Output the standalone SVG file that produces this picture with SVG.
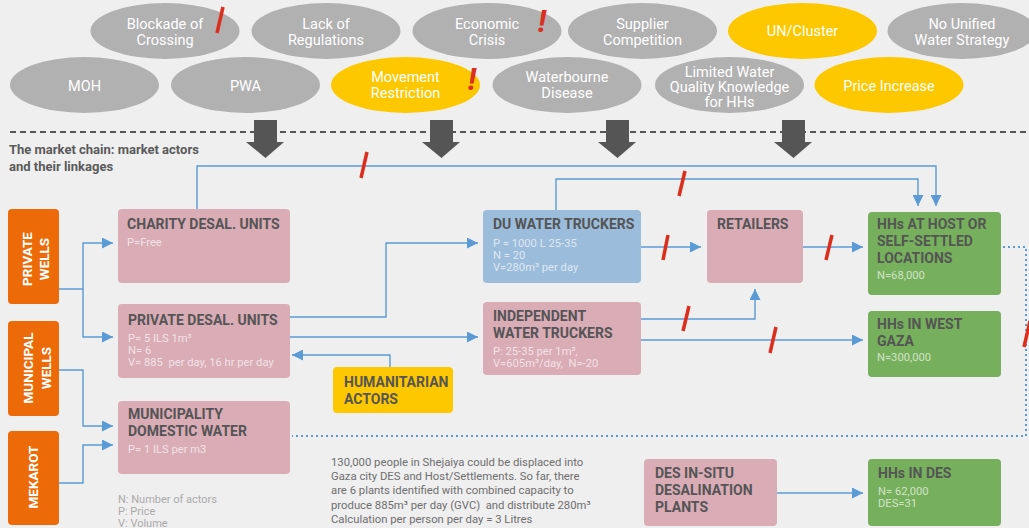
<svg xmlns="http://www.w3.org/2000/svg" width="1029" height="528" viewBox="0 0 1029 528">
<style>
.bg{fill:#efefef}
.eg{fill:#b1b1b1}
.ey{fill:#fdc800}
.et{font-family:Roboto,"Liberation Sans",sans-serif;font-size:14.5px;fill:#ffffff;text-anchor:middle}
.pink{fill:#d9acb6}
.blue{fill:#9bbcda}
.green{fill:#76b05c}
.orange{fill:#ec6a08}
.yel{fill:#fec800}
.tt{font-family:Roboto,"Liberation Sans",sans-serif;font-size:14px;font-weight:bold;fill:#555555}
.st{font-family:Roboto,"Liberation Sans",sans-serif;font-size:11.2px;fill:#ffffff;fill-opacity:0.68;white-space:pre}
.ot{font-family:Roboto,"Liberation Sans",sans-serif;font-size:13.5px;font-weight:bold;fill:#ffffff;text-anchor:middle}
.conn{fill:none;stroke:#5b9bd5;stroke-width:1.4}
.dot{fill:none;stroke:#5b9bd5;stroke-width:2;stroke-dasharray:2 3}
.slash{stroke:#dc2e1c;stroke-width:3.5;stroke-linecap:butt}
.bang{font-family:Roboto,"Liberation Sans",sans-serif;font-size:32px;font-weight:bold;font-style:italic;fill:#dc2e1c;text-anchor:middle}
.big{fill:#555555}
.note{font-family:Roboto,"Liberation Sans",sans-serif;font-size:11.3px;fill:#6e6e6e;white-space:pre}
.leg{font-family:Roboto,"Liberation Sans",sans-serif;font-size:11px;fill:#aaaaaa}
.head{font-family:Roboto,"Liberation Sans",sans-serif;font-size:13px;font-weight:bold;fill:#5a5a5a}
</style>
<defs>
<marker id="arr" viewBox="0 0 10 10" refX="10" refY="5" markerWidth="11" markerHeight="11" markerUnits="userSpaceOnUse" orient="auto">
<path d="M0,0 L10,5 L0,10 Z" fill="#5b9bd5"/>
</marker>
</defs>
<rect class="bg" x="0" y="0" width="1029" height="528"/>

<!-- Factors: top row -->
<g id="f-blockade"><ellipse class="eg" cx="165" cy="31" rx="74.5" ry="28"/><text class="et" x="165" y="29">Blockade of</text><text class="et" x="165" y="45">Crossing</text><line class="slash" x1="223" y1="7" x2="217" y2="33"/></g>
<g id="f-regulations"><ellipse class="eg" cx="326" cy="31" rx="74.5" ry="28"/><text class="et" x="326" y="29">Lack of</text><text class="et" x="326" y="45">Regulations</text></g>
<g id="f-economic"><ellipse class="eg" cx="487" cy="31" rx="74.5" ry="28"/><text class="et" x="487" y="29">Economic</text><text class="et" x="487" y="45">Crisis</text><text class="bang" x="542" y="32">!</text></g>
<g id="f-supplier"><ellipse class="eg" cx="642.5" cy="31" rx="74.5" ry="28"/><text class="et" x="642.5" y="29">Supplier</text><text class="et" x="642.5" y="45">Competition</text></g>
<g id="f-uncluster"><ellipse class="ey" cx="802.5" cy="31" rx="74.5" ry="28"/><text class="et" x="802.5" y="36">UN/Cluster</text></g>
<g id="f-strategy"><ellipse class="eg" cx="962" cy="31" rx="74.5" ry="28"/><text class="et" x="962" y="29">No Unified</text><text class="et" x="962" y="45">Water Strategy</text></g>

<!-- Factors: bottom row -->
<g id="f-moh"><ellipse class="eg" cx="84.5" cy="85" rx="74.5" ry="28"/><text class="et" x="84.5" y="91">MOH</text></g>
<g id="f-pwa"><ellipse class="eg" cx="245.5" cy="85" rx="74.5" ry="28"/><text class="et" x="245.5" y="91">PWA</text></g>
<g id="f-movement"><ellipse class="ey" cx="405.5" cy="85" rx="74.5" ry="28"/><text class="et" x="405.5" y="82">Movement</text><text class="et" x="405.5" y="98">Restriction</text><text class="bang" x="472" y="90">!</text></g>
<g id="f-waterbourne"><ellipse class="eg" cx="567" cy="85" rx="74.5" ry="28"/><text class="et" x="567" y="82">Waterbourne</text><text class="et" x="567" y="98">Disease</text></g>
<g id="f-knowledge"><ellipse class="eg" cx="729.5" cy="85" rx="74.5" ry="28"/><text class="et" x="729.5" y="77">Limited Water</text><text class="et" x="729.5" y="92">Quality Knowledge</text><text class="et" x="729.5" y="107">for HHs</text></g>
<g id="f-price"><ellipse class="ey" cx="889" cy="85" rx="74.5" ry="28"/><text class="et" x="889" y="91">Price Increase</text></g>

<!-- divider and impact arrows -->
<g id="divider">
<line x1="10" y1="132" x2="1029" y2="132" stroke="#555555" stroke-width="2" stroke-dasharray="6 4"/>
<path class="big" d="M254,120 H277 V142 H284 L265.5,158 L246,142 H254 Z"/>
<path class="big" d="M430,120 H453 V142 H460 L441.5,158 L422,142 H430 Z"/>
<path class="big" d="M606,120 H629 V142 H636 L617.5,158 L598,142 H606 Z"/>
<path class="big" d="M782,120 H805 V142 H812 L793.5,158 L774,142 H782 Z"/>
<text class="head" x="9" y="154">The market chain: market actors</text>
<text class="head" x="9" y="171">and their linkages</text>
</g>

<!-- Connectors -->
<g id="connectors">
<path class="conn" d="M59,289 H83 V243 H113" marker-end="url(#arr)"/>
<path class="conn" d="M83,289 V337 H113" marker-end="url(#arr)"/>
<path class="conn" d="M59,370 H83 V426 H113" marker-end="url(#arr)"/>
<path class="conn" d="M59,483 H83 V445 H113" marker-end="url(#arr)"/>
<path class="conn" d="M197,209 V166 H936 V206" marker-end="url(#arr)"/>
<path class="conn" d="M556,210 V179 H918 V206" marker-end="url(#arr)"/>
<path class="conn" d="M290,317 H386 V243 H478" marker-end="url(#arr)"/>
<path class="conn" d="M290,337 H478" marker-end="url(#arr)"/>
<path class="conn" d="M390,367 V355 H292" marker-end="url(#arr)"/>
<path class="conn" d="M641,247 H701" marker-end="url(#arr)"/>
<path class="conn" d="M803,247 H863" marker-end="url(#arr)"/>
<path class="conn" d="M641,319 H755 V289" marker-end="url(#arr)"/>
<path class="conn" d="M641,340 H863" marker-end="url(#arr)"/>
<path class="conn" d="M777,493 H863" marker-end="url(#arr)"/>
<path class="dot" d="M1003,247 H1026 V436 H292"/>
<line class="slash" x1="367" y1="152" x2="361" y2="178"/>
<line class="slash" x1="685" y1="171" x2="679" y2="196"/>
<line class="slash" x1="668" y1="235" x2="663" y2="260"/>
<line class="slash" x1="832" y1="235" x2="826" y2="260"/>
<line class="slash" x1="689" y1="306" x2="683" y2="331"/>
<line class="slash" x1="776" y1="327" x2="770" y2="353"/>
<line class="slash" x1="1030" y1="321" x2="1024" y2="347"/>
</g>

<!-- Source nodes -->
<g id="n-private-wells"><rect class="orange" x="8" y="209" width="51" height="95" rx="4"/><g transform="translate(0,259) rotate(-90)"><text class="ot" x="0" y="32">PRIVATE</text><text class="ot" x="0" y="49">WELLS</text></g></g>
<g id="n-municipal-wells"><rect class="orange" x="8" y="321" width="51" height="95" rx="4"/><g transform="translate(0,368) rotate(-90)"><text class="ot" x="0" y="33">MUNICIPAL</text><text class="ot" x="0" y="51">WELLS</text></g></g>
<g id="n-mekarot"><rect class="orange" x="8" y="431" width="51" height="94" rx="4"/><g transform="translate(0,477) rotate(-90)"><text class="ot" x="0" y="38">MEKAROT</text></g></g>

<!-- Actor nodes -->
<g id="n-charity"><rect class="pink" x="118" y="209" width="172" height="74" rx="4"/><text class="tt" x="127" y="229">CHARITY DESAL. UNITS</text><text class="st" x="127" y="246">P=Free</text></g>
<g id="n-private-desal"><rect class="pink" x="118" y="304" width="172" height="74" rx="4"/><text class="tt" x="128" y="325">PRIVATE DESAL. UNITS</text><text class="st" x="128" y="342">P= 5 ILS 1m³</text><text class="st" x="128" y="354">N= 6</text><text class="st" x="128" y="366">V= 885  per day, 16 hr per day</text></g>
<g id="n-municipality"><rect class="pink" x="118" y="401" width="172" height="73" rx="4"/><text class="tt" x="128" y="419">MUNICIPALITY</text><text class="tt" x="128" y="436">DOMESTIC WATER</text><text class="st" x="128" y="453">P= 1 ILS per m3</text></g>
<g id="n-humanitarian"><rect class="yel" x="333" y="367" width="120" height="46" rx="4"/><text class="tt" x="344" y="387">HUMANITARIAN</text><text class="tt" x="344" y="404">ACTORS</text></g>
<g id="n-du-truckers"><rect class="blue" x="483" y="210" width="158" height="73" rx="4"/><text class="tt" x="493" y="229">DU WATER TRUCKERS</text><text class="st" x="493" y="247">P = 1000 L 25-35</text><text class="st" x="493" y="259">N = 20</text><text class="st" x="493" y="271">V=280m³ per day</text></g>
<g id="n-independent"><rect class="pink" x="483" y="302" width="158" height="73" rx="4"/><text class="tt" x="493" y="321">INDEPENDENT</text><text class="tt" x="493" y="338">WATER TRUCKERS</text><text class="st" x="493" y="355">P: 25-35 per 1m³,</text><text class="st" x="493" y="367">V=605m³/day,  N=-20</text></g>
<g id="n-retailers"><rect class="pink" x="707" y="210" width="96" height="73" rx="4"/><text class="tt" x="717" y="229">RETAILERS</text></g>
<g id="n-hh-host"><rect class="green" x="868" y="212" width="133" height="83" rx="4"/><text class="tt" x="877" y="229">HHs AT HOST OR</text><text class="tt" x="877" y="246">SELF-SETTLED</text><text class="tt" x="877" y="263">LOCATIONS</text><text class="st" x="877" y="279">N=68,000</text></g>
<g id="n-hh-west"><rect class="green" x="868" y="311" width="133" height="66" rx="4"/><text class="tt" x="877" y="329">HHs IN WEST</text><text class="tt" x="877" y="346">GAZA</text><text class="st" x="877" y="361">N=300,000</text></g>
<g id="n-des-plants"><rect class="pink" x="644" y="459" width="133" height="67" rx="4"/><text class="tt" x="655" y="478">DES IN-SITU</text><text class="tt" x="655" y="495">DESALINATION</text><text class="tt" x="655" y="512">PLANTS</text></g>
<g id="n-hh-des"><rect class="green" x="868" y="459" width="133" height="67" rx="4"/><text class="tt" x="878" y="478">HHs IN DES</text><text class="st" x="878" y="495">N= 62,000</text><text class="st" x="878" y="507">DES=31</text></g>

<!-- Notes -->
<g id="legend"><text class="leg" x="118" y="503">N: Number of actors</text><text class="leg" x="118" y="515">P: Price</text><text class="leg" x="118" y="527">V: Volume</text></g>
<g id="note"><text class="note" x="331" y="466">130,000 people in Shejaiya could be displaced into</text><text class="note" x="331" y="480">Gaza city DES and Host/Settlements. So far, there</text><text class="note" x="331" y="494">are 6 plants identified with combined capacity to</text><text class="note" x="331" y="509">produce 885m³ per day (GVC)  and distribute 280m³</text><text class="note" x="331" y="523">Calculation per person per day = 3 Litres</text></g>
</svg>
